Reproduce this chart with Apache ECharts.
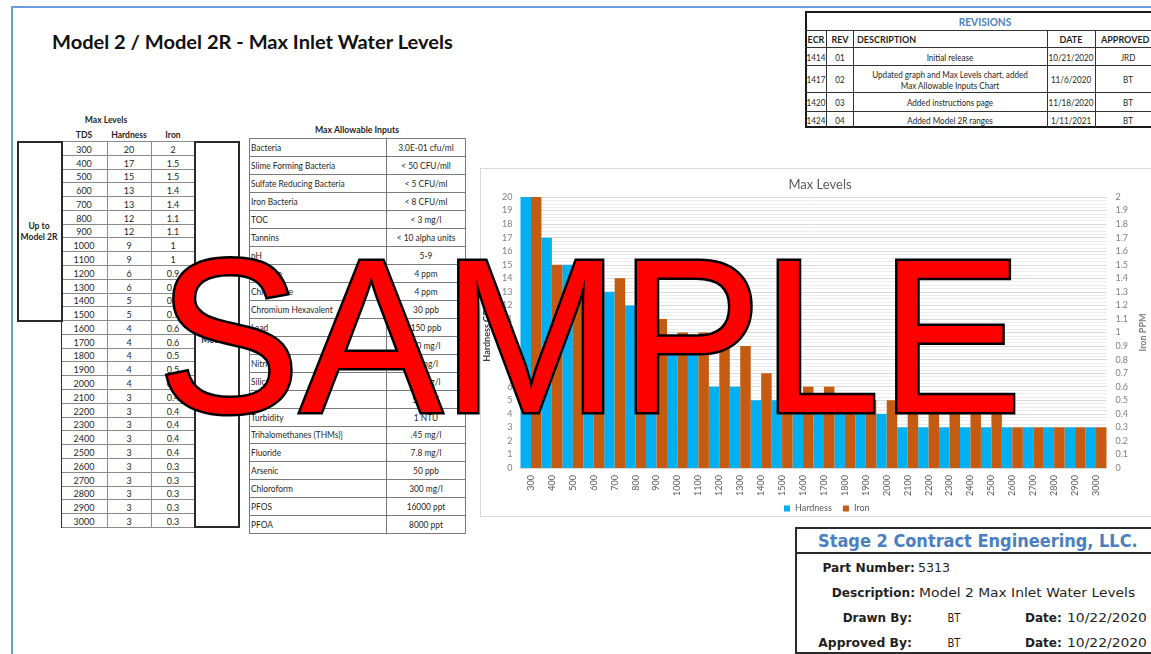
<!DOCTYPE html>
<html><head><meta charset="utf-8">
<script src="https://cdn.jsdelivr.net/npm/echarts@6/dist/echarts.min.js"></script>
<style>
html,body{margin:0;padding:0;width:1151px;height:654px;overflow:hidden;background:#fff;}
body{position:relative;font-family:Lato,'Liberation Sans',sans-serif;color:#1f1f1f;}
.a{position:absolute;box-sizing:border-box;}
.t{position:absolute;white-space:nowrap;line-height:1;}
</style></head><body>
<div id="page"></div>
<div class="a" style="left:480px;top:168px;width:700px;height:349px;border:1px solid #d9d9d9;"></div>
<div id="chart" class="a" style="left:480px;top:168px;width:680px;height:348px;"></div>
<svg id="ov" class="a" width="1151" height="654" style="left:0;top:0;pointer-events:none;">
<text x="158" y="412" font-family="'Liberation Sans',Arial,sans-serif" font-size="219" fill="#ff0000" stroke="#000000" stroke-width="5" paint-order="stroke" stroke-linejoin="miter" textLength="864" lengthAdjust="spacingAndGlyphs">SAMPLE</text>
</svg>
<script>
// ---------- data ----------
const tds = ['300','400','500','600','700','800','900','1000','1100','1200','1300','1400','1500','1600','1700','1800','1900','2000','2100','2200','2300','2400','2500','2600','2700','2800','2900','3000'];
const hardness = [20,17,15,13,13,12,12,9,9,6,6,5,5,4,4,4,4,4,3,3,3,3,3,3,3,3,3,3];
const iron = [2,1.5,1.5,1.4,1.4,1.1,1.1,1,1,0.9,0.9,0.7,0.7,0.6,0.6,0.5,0.5,0.5,0.4,0.4,0.4,0.4,0.4,0.3,0.3,0.3,0.3,0.3];
const levelHeaders = ['TDS','Hardness','Iron'];
const inputNames = ['Bacteria','Slime Forming Bacteria','Sulfate Reducing Bacteria','Iron Bacteria','TOC','Tannins','pH','Chlorine','Chloramine','Chromium Hexavalent','Lead','Nitrate','Nitrite','Silica','Sulfide','Turbidity','Trihalomethanes (THMs)]','Fluoride','Arsenic','Chloroform','PFOS','PFOA'];
const inputValues = ['3.0E-01 cfu/ml','< 50 CFU/mll','< 5 CFU/ml','< 8 CFU/ml','< 3 mg/l','< 10 alpha units','5-9','4 ppm','4 ppm','30 ppb','150 ppb','10 mg/l','1 mg/l','50 mg/l','SDI < 5','1 NTU','.45 mg/l','7.8 mg/l','50 ppb','300 mg/l','16000 ppt','8000 ppt'];
const revHeaders = ['ECR','REV','DESCRIPTION','DATE','APPROVED'];
const revEcr = ['1414','1417','1420','1424'];
const revRev = ['01','02','03','04'];
const revDesc = [['Initial release'],['Updated graph and Max Levels chart, added','Max Allowable Inputs Chart'],['Added instructions page'],['Added Model 2R ranges']];
const revDate = ['10/21/2020','11/6/2020','11/18/2020','1/11/2021'];
const revBy = ['JRD','BT','BT','BT'];
const titleText = 'Model 2 / Model 2R - Max Inlet Water Levels';
const company = 'Stage 2 Contract Engineering, LLC.';
const blockLabels = ['Part Number:','Description:','Drawn By:','Approved By:'];
const blockValues = ['5313','Model 2 Max Inlet Water Levels','BT','BT'];
const blockDates = ['10/22/2020','10/22/2020'];

// ---------- helpers ----------
const page = document.getElementById('page');
function box(x,y,w,h,st){
  const d=document.createElement('div');d.className='a';
  d.style.left=x+'px';d.style.top=y+'px';d.style.width=w+'px';d.style.height=h+'px';
  d.style.cssText+=';'+(st||'');page.appendChild(d);return d;
}
function T(x,y,text,o){
  o=o||{};
  const d=document.createElement('div');d.className='t';d.textContent=text;
  d.style.fontSize=(o.size||9.5)+'px';
  d.style.fontWeight=o.bold?'700':'400';
  d.style.color=o.color||'#1f1f1f';
  if(o.font)d.style.fontFamily=o.font;
  d.style.left=x+'px';d.style.top=y+'px';
  page.appendChild(d);
  let sx=o.sx||1;
  if(o.w){sx=o.w/d.offsetWidth;}
  const al=o.align||'c';
  if(al==='c'){d.style.transformOrigin='50% 50%';d.style.transform='translate(-50%,-50%) scaleX('+sx+')';}
  else if(al==='l'){d.style.transformOrigin='0 50%';d.style.transform='translate(0,-50%) scaleX('+sx+')';}
  else {d.style.transformOrigin='100% 50%';d.style.transform='translate(-100%,-50%) scaleX('+sx+')';}
  return d;
}
function hl(x1,x2,y,c,t){box(x1,y,x2-x1,t||1,'background:'+c);}
function vl(x,y1,y2,c,t){box(x,y1,t||1,y2-y1,'background:'+c);}

// page border
hl(11,1151,6,'#6a9fd8',2);
vl(11,6,654,'#6a9fd8',2);

// title
T(52,41,titleText,{size:19,bold:true,align:'l',w:401,color:'#111'});

// ---------- Max Levels table ----------
const LC=[61,107,151,195], LY0=141, LRH=13.78;
T(106,120,'Max Levels',{size:9.5,bold:true,sx:0.9});
[84,129,173].forEach((cx,i)=>T(cx,134.5,levelHeaders[i],{size:9.5,bold:true,sx:0.9}));
for(let r=0;r<tds.length;r++){
  const y=Math.round(LY0+r*LRH), y2=Math.round(LY0+(r+1)*LRH);
  const vals=[tds[r],String(hardness[r]),String(iron[r])];
  for(let c=0;c<3;c++){
    box(LC[c],y,LC[c+1]-LC[c]+1,y2-y+1,'border:1px solid #8a8a8a');
    T((LC[c]+LC[c+1])/2,(y+y2)/2+0.5,vals[c],{size:10,sx:0.9});
  }
}
box(17,141,46,181,'border:2px solid #2a2a2a');
T(39,225.5,'Up to',{size:9.5,bold:true,sx:0.9});
T(39,236.5,'Model 2R',{size:9.5,bold:true,sx:0.9});
box(194,141,46,387,'border:2px solid #2a2a2a');
T(217,340,'Model 2',{size:9.5,bold:true,sx:0.9});
vl(61,141,528,'#2a2a2a',1);

// ---------- Max Allowable Inputs ----------
const IC=[249,386,465], IY0=138.3, IRH=17.95;
T(357,130,'Max Allowable Inputs',{size:9.5,bold:true,sx:0.92});
for(let r=0;r<inputNames.length;r++){
  const y=Math.round(IY0+r*IRH), y2=Math.round(IY0+(r+1)*IRH);
  box(IC[0],y,IC[1]-IC[0]+1,y2-y+1,'border:1px solid #7a7a7a');
  box(IC[1],y,IC[2]-IC[1]+1,y2-y+1,'border:1px solid #7a7a7a');
  T(IC[0]+2,(y+y2)/2+0.5,inputNames[r],{size:9.5,align:'l',sx:0.88});
  T((IC[1]+IC[2])/2,(y+y2)/2+0.5,inputValues[r],{size:9.5,sx:0.88});
}

// ---------- Revisions ----------
const RC=[805,826,853,1047,1095,1165];
const RY=[11,30,47,65,92,111,128];
box(805,RY[0],360,RY[6]-RY[0],'border:2px solid #1a1a1a');
for(let i=1;i<6;i++) hl(805,1165,RY[i],'#333',1);
for(let i=1;i<5;i++) vl(RC[i],RY[1],RY[6],'#333',1);
T(985,20.5,'REVISIONS',{size:11,bold:true,color:'#4a7fc0',sx:0.92});
T(815.5,38.5,revHeaders[0],{size:10,bold:true,sx:0.9});
T(839.5,38.5,revHeaders[1],{size:10,bold:true,sx:0.9});
T(857,38.5,revHeaders[2],{size:10,bold:true,align:'l',sx:0.9});
T(1071,38.5,revHeaders[3],{size:10,bold:true,sx:0.9});
T(1101,38.5,revHeaders[4],{size:10,bold:true,align:'l',sx:0.9});
for(let r=0;r<4;r++){
  const cy=(RY[r+2]+RY[r+3])/2+0.5;
  T(815.5,cy,revEcr[r],{size:9,sx:0.9});
  T(839.5,cy,revRev[r],{size:9,sx:0.9});
  const dl=revDesc[r];
  if(dl.length===1) T(950,cy,dl[0],{size:9,sx:0.9});
  else { T(950,cy-5.5,dl[0],{size:9,sx:0.9}); T(950,cy+5.5,dl[1],{size:9,sx:0.9}); }
  T(1071,cy,revDate[r],{size:9,sx:0.9});
  T(1128,cy,revBy[r],{size:9,sx:0.9});
}

// ---------- Title block ----------
box(795,527,380,127,'border:2px solid #2a2a2a');
hl(795,1175,552,'#2a2a2a',2);
const GF="'DejaVu Sans',sans-serif";
T(818,540.5,company,{size:18,bold:true,color:'#4a7fc0',align:'l',w:320,font:GF});
T(915,566.5,blockLabels[0],{size:13,bold:true,align:'r',w:93,font:GF});
T(918,566.5,blockValues[0],{size:13,align:'l',w:32,font:GF});
T(915,591.5,blockLabels[1],{size:13,bold:true,align:'r',w:83,font:GF});
T(919,591.5,blockValues[1],{size:13,align:'l',w:216,font:GF});
T(912,616.5,blockLabels[2],{size:13,bold:true,align:'r',w:69,font:GF});
T(953.5,616.5,blockValues[2],{size:13,w:13,font:GF});
T(1025,616.5,'Date:',{size:13,bold:true,align:'l',w:37,font:GF});
T(1067,616.5,blockDates[0],{size:13,align:'l',w:80,font:GF});
T(912,641.5,blockLabels[3],{size:13,bold:true,align:'r',w:94,font:GF});
T(953.5,641.5,blockValues[3],{size:13,w:13,font:GF});
T(1025,641.5,'Date:',{size:13,bold:true,align:'l',w:37,font:GF});
T(1067,641.5,blockDates[1],{size:13,align:'l',w:80,font:GF});

// ---------- Chart ----------
const chart = echarts.init(document.getElementById('chart'), null, {renderer:'canvas'});
chart.setOption({
  animation:false,
  textStyle:{fontFamily:'Lato'},
  title:{text:'Max Levels',left:'center',top:10,padding:0,textStyle:{fontSize:13,fontWeight:'normal',color:'#595959'}},
  legend:{left:304,top:336,padding:0,itemWidth:6,itemHeight:6,itemGap:11,icon:'rect',textStyle:{fontSize:9,color:'#595959'},data:['Hardness','Iron']},
  grid:{left:40.5,top:29,width:586,height:271,containLabel:false,outerBoundsMode:'none'},
  xAxis:{type:'category',data:tds,axisTick:{show:false},axisLine:{lineStyle:{color:'#d9d9d9'}},
    axisLabel:{rotate:90,fontSize:9,color:'#595959',margin:7,interval:0}},
  yAxis:[
    {type:'value',min:0,max:20,interval:1,axisLine:{show:false},axisTick:{show:false},
     axisLabel:{fontSize:9,color:'#7f7f7f',margin:8},
     splitLine:{lineStyle:{color:'#d9d9d9'}},
     minorTick:{show:false,splitNumber:4},minorSplitLine:{show:true,lineStyle:{color:'#ececec'}},
     name:'Hardness GPG',nameLocation:'middle',nameGap:26,nameRotate:90,nameTextStyle:{fontSize:9,color:'#404040',fontWeight:'bold'}},
    {type:'value',position:'right',min:0,max:2,interval:0.1,axisLine:{show:false},axisTick:{show:false},
     axisLabel:{fontSize:9,color:'#7f7f7f',margin:9},splitLine:{show:false},
     name:'Iron PPM',nameLocation:'middle',nameGap:32,nameRotate:90,nameTextStyle:{fontSize:9,color:'#7f7f7f',fontWeight:'bold'}}
  ],
  series:[
    {name:'Hardness',type:'bar',data:hardness,itemStyle:{color:'#00B0F0'},barGap:'0%',barCategoryGap:'0%'},
    {name:'Iron',type:'bar',yAxisIndex:1,data:iron,itemStyle:{color:'#C55A11'},barGap:'0%',barCategoryGap:'0%'}
  ]
});
</script>
</body></html>
